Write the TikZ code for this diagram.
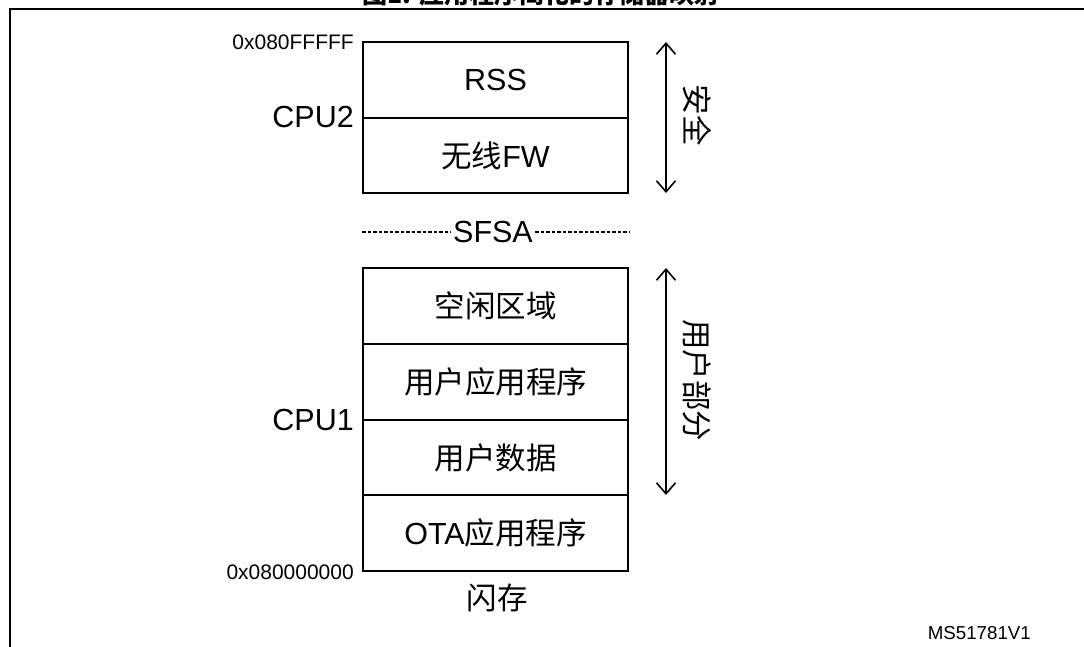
\documentclass[tikz,border=0pt]{standalone}
\usepackage{fontspec}
\setmainfont{Liberation Sans}
\newfontfamily\cjk{Noto Sans CJK SC}
\usetikzlibrary{arrows.meta}
\tikzset{
  region/.style={draw=black, line width=2pt, minimum width=265pt, inner sep=0pt, font=\fontsize{30.5}{36}\selectfont},
  sidelabel/.style={anchor=east, inner sep=0pt, font=\fontsize{30.5}{36}\selectfont},
  addr/.style={anchor=east, inner sep=0pt, font=\fontsize{21}{25}\selectfont},
  span/.style={line width=1.6pt, {Straight Barb[length=11pt,width=19pt,line width=1.6pt]}-{Straight Barb[length=11pt,width=19pt,line width=1.6pt]}},
  vtext/.style={rotate=-90, inner sep=0pt, font=\fontsize{30.5}{36}\selectfont\cjk},
  sfsaline/.style={line width=1.5pt, dash pattern=on 3.5pt off 2pt}
}
\begin{document}
\begin{tikzpicture}[x=1pt,y=-1pt]
\useasboundingbox (0,0) rectangle (1084,646);
\begin{scope}
\clip (0,0) rectangle (1084,646);
\node[anchor=base, inner sep=0pt, font=\fontsize{25}{30}\selectfont\cjk\bfseries] (title) at (541,3) {图1. 应用程序简化的存储器映射};
\draw[line width=2.5pt] (10,700) -- (10,9) -- (1100,9);
\end{scope}

% upper block
\node[region, minimum height=76pt] (rss) at (495.5,80) {RSS};
\node[region, minimum height=75pt] (wfw) at (495.5,155.5) {{\cjk 无线}FW};

% lower block
\node[region, minimum height=76pt] (free) at (495.5,306) {\cjk 空闲区域};
\node[region, minimum height=76pt] (app) at (495.5,382) {\cjk 用户应用程序};
\node[region, minimum height=75pt] (data) at (495.5,457.5) {\cjk 用户数据};
\node[region, minimum height=76pt] (ota) at (495.5,533) {OTA{\cjk 应用程序}};

% left labels
\node[addr] (hi) at (354,42) {0x080FFFFF};
\node[addr] (lo) at (354,572) {0x080000000};
\node[sidelabel] (cpu2) at (354,117) {CPU2};
\node[sidelabel] (cpu1) at (354,420) {CPU1};

% SFSA separator
\node[inner sep=2pt, font=\fontsize{30.5}{36}\selectfont] (sfsa) at (493,232) {SFSA};
\coordinate (sfsaL) at (362,232);
\coordinate (sfsaR) at (629,232);
\draw[sfsaline] (sfsaL) -- (sfsa.west);
\draw[sfsaline] (sfsa.east) -- (sfsaR);

% span arrows
\coordinate (secT) at (666,42);
\coordinate (secB) at (666,193);
\draw[span] (secT) -- (secB);
\node[vtext] (sec) at (697,115) {安全};
\coordinate (usrT) at (666,268);
\coordinate (usrB) at (666,495);
\draw[span] (usrT) -- (usrB);
\node[vtext] (usr) at (697,380) {用户部分};

% bottom labels
\node[inner sep=0pt, font=\fontsize{30.5}{36}\selectfont\cjk] (flash) at (497,598) {闪存};
\node[anchor=east, inner sep=0pt, font=\fontsize{18.7}{22}\selectfont] (ms) at (1031,633) {MS51781V1};
\end{tikzpicture}
\end{document}
